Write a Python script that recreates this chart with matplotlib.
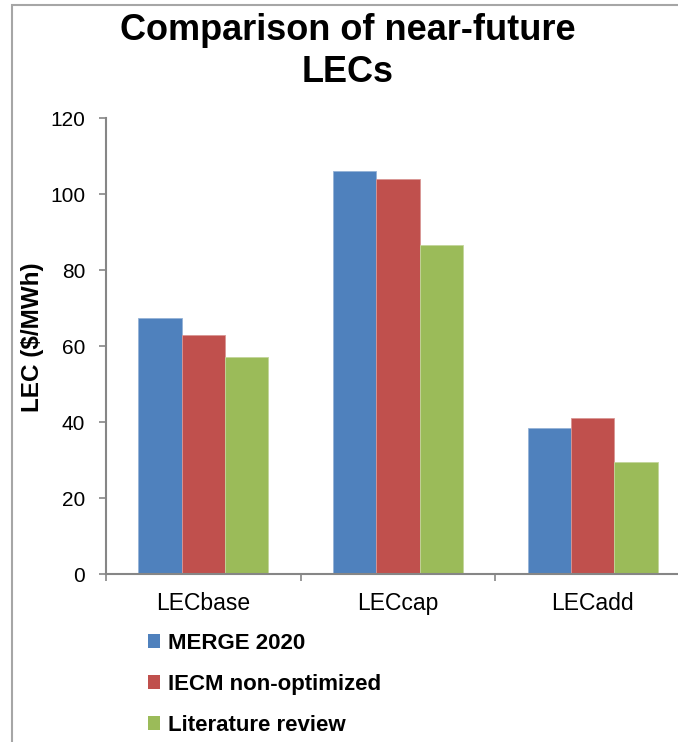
import matplotlib
matplotlib.use("Agg")
import matplotlib.pyplot as plt
from matplotlib.patches import Rectangle, Patch
import numpy as np

plt.rcParams['font.family'] = ['Liberation Sans', 'DejaVu Sans']

categories = ["LECbase", "LECcap", "LECadd"]
series_names = ["MERGE 2020", "IECM non-optimized", "Literature review"]
merge_2020 = [67.5, 106.0, 38.5]
iecm_nonopt = [63.0, 104.0, 41.0]
literature = [57.0, 86.5, 29.5]
colors = ["#4F81BD", "#C0504D", "#9BBB59"]
edge_colors = ["#95B3D7", "#D99694", "#C3D69B"]
yticks = [0, 20, 40, 60, 80, 100, 120]

W, H = 678, 742
fig = plt.figure(figsize=(W / 100, H / 100), dpi=100)
ax = fig.add_axes([106 / W, 1 - 574 / H, (690 - 106) / W, (574 - 118) / H])

x = np.arange(len(categories))
bw = 0.2225
for i, (vals, c, ec, name) in enumerate(zip([merge_2020, iecm_nonopt, literature], colors, edge_colors, series_names)):
    ax.bar(x + (i - 1) * bw, vals, width=bw, color=c, edgecolor=ec, linewidth=0.6, label=name, zorder=2)

ax.set_xlim(-0.5, 2.5)
ax.set_ylim(0, 120)
ax.set_yticks(yticks)
ax.set_xticks(x)
ax.set_xticklabels(categories)
ax.set_xticks([-0.5, 0.5, 1.5, 2.5], minor=True)

spine_c = "#868686"
for s in ["top", "right"]:
    ax.spines[s].set_visible(False)
for s in ["left", "bottom"]:
    ax.spines[s].set_color(spine_c)
    ax.spines[s].set_linewidth(1.5)

ax.tick_params(axis='y', which='major', length=5, width=1.2, color=spine_c, pad=10, labelsize=15, labelcolor='black')
ax.tick_params(axis='x', which='major', length=0, pad=13, labelsize=16.5, labelcolor='black')
ax.tick_params(axis='x', which='minor', length=5, width=1.2, color=spine_c)

fig.text(33 / W, 1 - 337 / H, "LEC ($/MWh)", rotation=90, ha='center', va='center', fontsize=17.5, fontweight='bold')

fig.text(348 / W, 1 - 31 / H, "Comparison of near-future", ha='center', va='center', fontsize=26, fontweight='bold')
fig.text(348 / W, 1 - 72 / H, "LECs", ha='center', va='center', fontsize=26, fontweight='bold')

handles = [Patch(facecolor=c, edgecolor='none') for c in colors]
leg = fig.legend(handles, series_names, loc='upper left', bbox_to_anchor=(148 / W, 1 - 633 / H),
                 frameon=False, prop={'weight': 'bold', 'size': 16}, handlelength=0.55, handleheight=0.55,
                 handletextpad=0.35, labelspacing=0.9, borderaxespad=0, borderpad=0)

fig.patches.append(Rectangle((12 / W, -0.1), 1.2, 1.1 - 5 / H, transform=fig.transFigure,
                             fill=False, edgecolor="#A6A6A6", linewidth=1.5, clip_on=False))

fig.savefig("out.png", dpi=100)
